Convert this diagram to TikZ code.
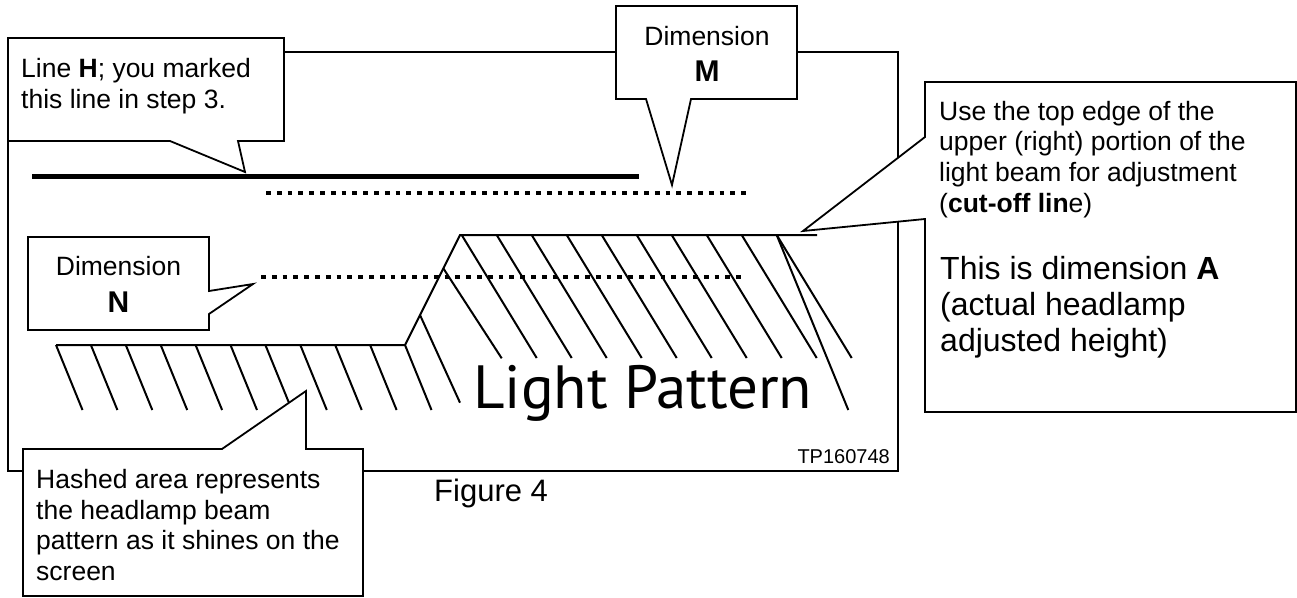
\documentclass[tikz,border=0pt]{standalone}
\usepackage{fontspec}
\setmainfont{Liberation Sans}
\newfontfamily\lpfont{PT Sans}
\begin{document}
\begin{tikzpicture}[x=1pt,y=-1pt,
  box/.style={draw=black,line width=1.8pt,fill=white,line join=miter},
  frame/.style={draw=black,line width=1.8pt},
  hatch/.style={draw=black,line width=2pt},
  thickline/.style={draw=black,line width=5pt},
  dots/.style={draw=black,line width=4pt,dash pattern=on 4.8pt off 6pt},
  txt/.style={inner sep=0pt,anchor=base west,font=\fontsize{26.5}{31}\selectfont},
  ctxt/.style={inner sep=0pt,anchor=base,font=\fontsize{26.5}{31}\selectfont},
  bigletter/.style={inner sep=0pt,anchor=base,font=\bfseries\fontsize{30}{31}\selectfont},
  bigtxt/.style={inner sep=0pt,anchor=base west,font=\fontsize{32}{36}\selectfont},
  figtxt/.style={inner sep=0pt,anchor=base west,font=\fontsize{31}{36}\selectfont},
  codetxt/.style={inner sep=0pt,anchor=base east,font=\fontsize{20}{24}\selectfont},
  lptxt/.style={inner sep=0pt,anchor=base west,font=\lpfont\fontsize{61}{66}\selectfont}
]
\useasboundingbox (0,0) rectangle (1297,597);
\fill[white] (0,0) rectangle (1297,597);

% outer frame
\draw[frame] (8,52) rectangle (898,471);

% light pattern outline
\draw[hatch,line join=miter] (56,345) -- (405,345) -- (460,235) -- (817,235);
\foreach \k in {0,...,10} {
  \draw[hatch] ({56+34.9*\k},345) -- ++(26.5,65);
}
\draw[hatch] (420,315) -- (460,402.7);
\draw[hatch] (443.3,268.3) -- (501.7,358.3);
\foreach \k in {0,...,9} {
  \draw[hatch] ({461.7+35*\k},235) -- ++(75,123);
}
\draw[hatch] (776.7,235) -- (848.3,410);

% marked lines
\draw[thickline] (32,176) -- (639,176);
\draw[dots] (266,193) -- (747,193);
\draw[dots] (261,277) -- (742,277);

% callouts
\draw[box] (8,38) -- (284,38) -- (284,141) -- (238,141) -- (245,172) -- (170,141) -- (8,141) -- cycle;
\draw[box] (616,6) -- (797,6) -- (797,99) -- (691,99) -- (672,185) -- (646,99) -- (616,99) -- cycle;
\draw[box] (28,237) -- (209,237) -- (209,291) -- (253,284) -- (209,314) -- (209,330) -- (28,330) -- cycle;
\draw[box] (925,82) -- (1296,82) -- (1296,412) -- (925,412) -- (925,219) -- (803,231) -- (925,137) -- cycle;
\draw[box] (23,449) -- (222,449) -- (306,391) -- (306,449) -- (363,449) -- (363,596) -- (23,596) -- cycle;

% texts
\node[txt] (h1) at (21,77.3) {Line \textbf{H}; you marked};
\node[txt] (h2) at (21,108.3) {this line in step 3.};

\node[ctxt] (m1) at (707,45.5) {Dimension};
\node[bigletter] (m2) at (707,81.7) {M};

\node[ctxt] (n1) at (118.5,275.7) {Dimension};
\node[bigletter] (n2) at (118.5,312) {N};

\node[txt] (a1) at (939,120) {Use the top edge of the};
\node[txt] (a2) at (939,150.7) {upper (right) portion of the};
\node[txt] (a3) at (939,181.4) {light beam for adjustment};
\node[txt] (a4) at (939,212.1) {(\textbf{cut-off lin}e)};
\node[bigtxt] (a5) at (940,279.3) {This is dimension \textbf{A}};
\node[bigtxt] (a6) at (940,315) {(actual headlamp};
\node[bigtxt] (a7) at (940,351) {adjusted height)};

\node[txt] (s1) at (36,488.3) {Hashed area represents};
\node[txt] (s2) at (36,519) {the headlamp beam};
\node[txt] (s3) at (36,549.7) {pattern as it shines on the};
\node[txt] (s4) at (36,580.3) {screen};

\node[figtxt] (fig) at (434,501.7) {Figure 4};
\node[codetxt] (code) at (890,463) {TP160748};
\node[lptxt] (lp) at (473,408) {Light Pattern};
\end{tikzpicture}
\end{document}
